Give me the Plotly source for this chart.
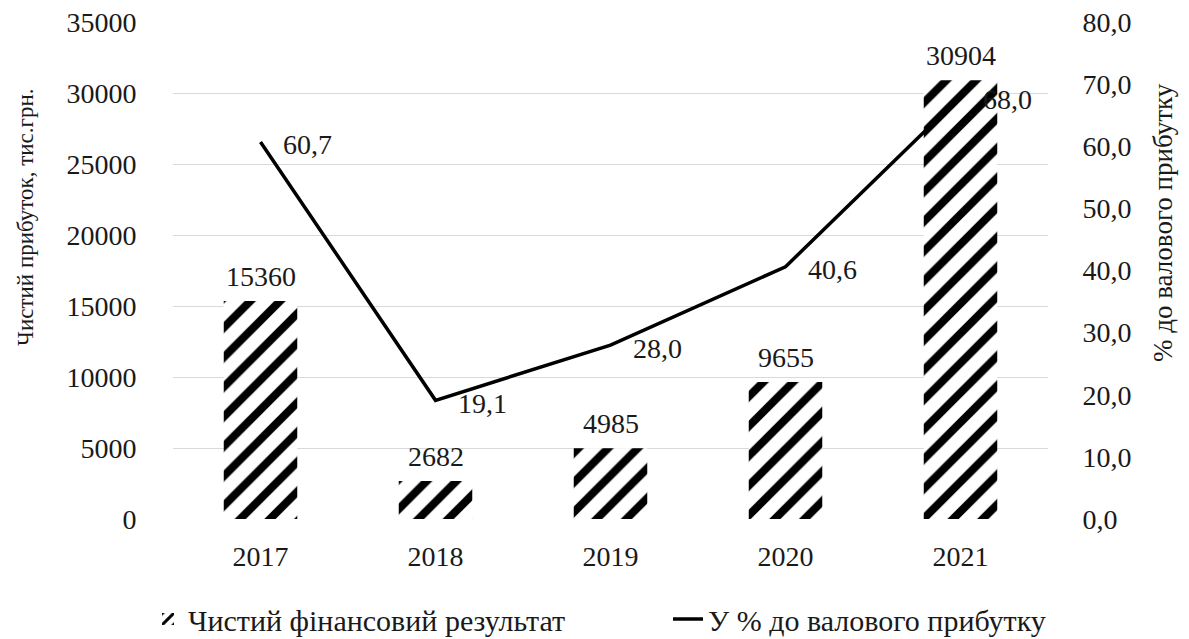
import plotly.graph_objects as go

years = ["2017", "2018", "2019", "2020", "2021"]
net_result = [15360, 2682, 4985, 9655, 30904]
pct_gross = [60.7, 19.1, 28.0, 40.6, 68.0]

left_ticks = [0, 5000, 10000, 15000, 20000, 25000, 30000, 35000]
right_ticks = [0, 10, 20, 30, 40, 50, 60, 70, 80]

left_title = "Чистий прибуток, тис.грн."
right_title = "% до валового прибутку"

FONT = "Liberation Serif"
INK = "#1a1a1a"
W, H = 1189, 639
L, R, T, B = 173, 141, 22, 120
PW, PH = W - L - R, H - T - B


def comma(v):
    return f"{v:.1f}".replace(".", ",")


fig = go.Figure()

fig.add_trace(go.Bar(
    x=years, y=net_result,
    name="Чистий фінансовий результат",
    marker=dict(color="white", line=dict(width=0),
                pattern=dict(shape="/", fgcolor="black", bgcolor="white",
                             fgopacity=1, size=21, solidity=0.38)),
    width=0.42,
    yaxis="y",
    legend="legend",
))

fig.add_trace(go.Scatter(
    x=years, y=pct_gross,
    name="У % до валового прибутку",
    mode="lines",
    line=dict(color="black", width=3.5),
    cliponaxis=False,
    yaxis="y2",
    legend="legend2",
))

annotations = []
# value labels above the bars (x given as category index)
for i, v in enumerate(net_result):
    annotations.append(dict(
        x=i, y=v, xref="x", yref="y", text=str(v), showarrow=False,
        xanchor="center", yanchor="bottom", yshift=7,
        font=dict(family=FONT, size=28, color=INK)))
# value labels to the right of the line points
for i, v in enumerate(pct_gross):
    annotations.append(dict(
        x=i, y=v, xref="x", yref="y2", text=comma(v), showarrow=False,
        xanchor="left", yanchor="middle", xshift=20, yshift=-3,
        font=dict(family=FONT, size=28, color=INK)))
# rotated axis titles, placed in plot-area (paper) fractions
annotations.append(dict(
    x=(25 - L) / PW, y=(H - B - 217) / PH, xref="paper", yref="paper",
    text=left_title, textangle=-90, showarrow=False,
    xanchor="center", yanchor="middle",
    font=dict(family=FONT, size=23, color=INK)))
annotations.append(dict(
    x=(1163 - L) / PW, y=(H - B - 223) / PH, xref="paper", yref="paper",
    text=right_title, textangle=-90, showarrow=False,
    xanchor="center", yanchor="middle",
    font=dict(family=FONT, size=27, color=INK)))

legend_style = dict(orientation="h", xref="container", yref="container",
                    xanchor="left", yanchor="middle", y=(H - 619) / H,
                    bgcolor="rgba(0,0,0,0)",
                    font=dict(family=FONT, size=30, color=INK),
                    itemwidth=30)

# invisible ticks push the tick labels away from the plot area
hidden_tick = dict(ticks="outside", tickcolor="rgba(0,0,0,0)")

fig.update_layout(
    width=W, height=H,
    margin=dict(l=L, r=R, t=T, b=B, autoexpand=False),
    plot_bgcolor="white", paper_bgcolor="white",
    font=dict(family=FONT, size=28, color=INK),
    annotations=annotations,
    xaxis=dict(type="category", range=[-0.5, len(years) - 0.5],
               showgrid=False, showline=False,
               ticklen=12, **hidden_tick,
               tickfont=dict(family=FONT, size=28, color=INK)),
    yaxis=dict(range=[0, 35000], tickvals=left_ticks,
               ticktext=[str(v) for v in left_ticks],
               showgrid=True, gridcolor="#d9d9d9", gridwidth=1.3,
               zeroline=False, showline=False,
               ticklen=30, **hidden_tick,
               tickfont=dict(family=FONT, size=28, color=INK)),
    yaxis2=dict(range=[0, 80], overlaying="y", side="right",
                tickvals=right_ticks,
                ticktext=[comma(v) for v in right_ticks],
                showgrid=False, zeroline=False, showline=False,
                ticklen=28, **hidden_tick,
                tickfont=dict(family=FONT, size=28, color=INK)),
    legend=dict(legend_style, x=148 / W),
    legend2=dict(legend_style, x=668 / W),
    showlegend=True,
)

fig.write_html("out.html")
